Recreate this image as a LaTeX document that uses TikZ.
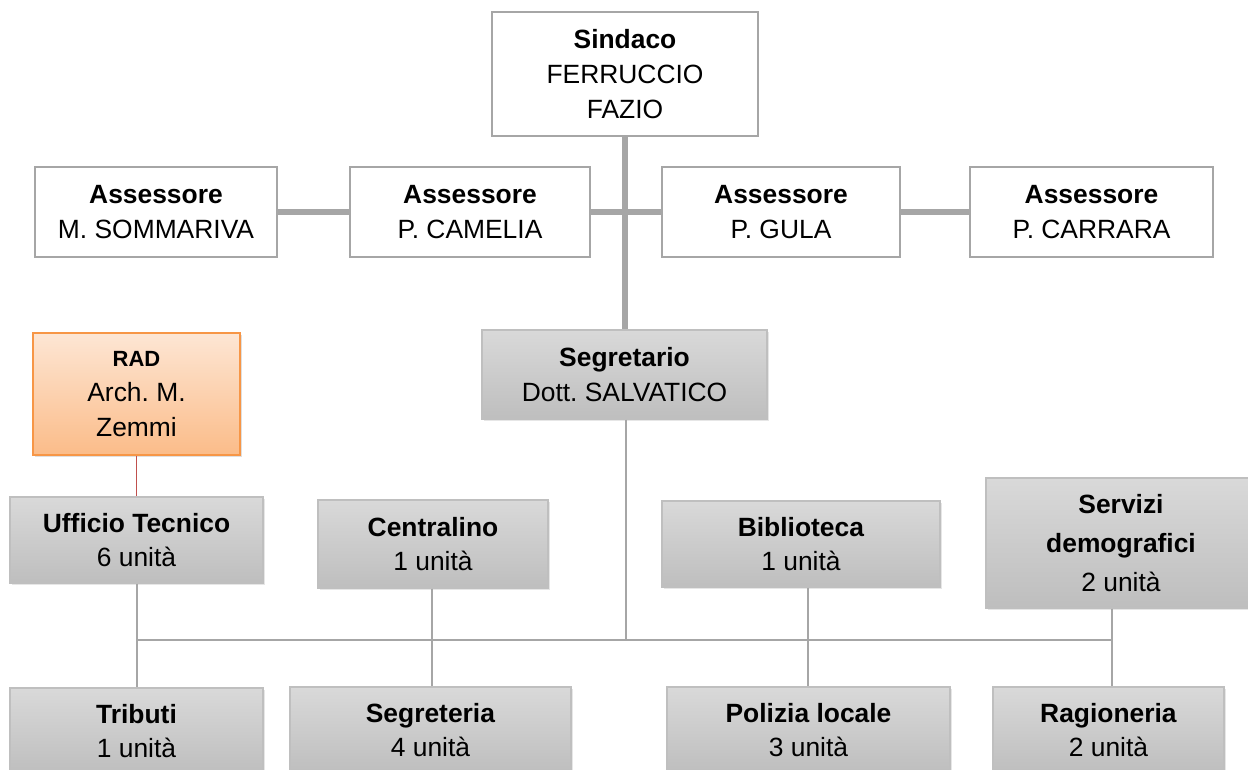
\documentclass[tikz,border=0pt]{standalone}
\usepackage{fontspec}
\setmainfont{Liberation Sans}
\usetikzlibrary{shadows}
\frenchspacing
\definecolor{lineg}{HTML}{A6A6A6}
\definecolor{boxb}{HTML}{BFBFBF}
\definecolor{gtop}{HTML}{D9D9D9}
\definecolor{gbot}{HTML}{BEBEBE}
\definecolor{otop}{HTML}{FDE6D4}
\definecolor{obot}{HTML}{FBBC89}
\definecolor{obord}{HTML}{F79646}
\definecolor{redl}{HTML}{C0504D}
\tikzset{
  x=0.75pt, y=-0.75pt,
  txt/.style={align=center, font=\fontsize{19.8pt}{26pt}\selectfont, inner sep=0pt},
  wbox/.style={txt, draw=lineg, line width=1.5pt, fill=white},
  gbox/.style={txt, draw=boxb, line width=1pt, top color=gtop, bottom color=gbot,
     drop shadow={opacity=0.2, shadow xshift=1.5pt, shadow yshift=-1.5pt}},
  obox/.style={txt, draw=obord, line width=1.2pt, top color=otop, bottom color=obot,
     drop shadow={opacity=0.25, shadow xshift=1.5pt, shadow yshift=-1.5pt}},
  thick link/.style={draw=lineg, line width=4.5pt},
  thin link/.style={draw=lineg, line width=1.1pt},
  red link/.style={draw=redl, line width=1.1pt},
}
\begin{document}
\begin{tikzpicture}
\useasboundingbox (0,0) rectangle (1248,769);
\clip (0,0) rectangle (1248,769);
% top level
\node[wbox, minimum width=199.5pt, minimum height=93pt] (sindaco) at (625,74)
  {\textbf{Sindaco}\\FERRUCCIO\\FAZIO};
\node[wbox, minimum width=181.5pt, minimum height=67.5pt] (a1) at (156,212)
  {\textbf{Assessore}\\M. SOMMARIVA};
\node[wbox, minimum width=180pt, minimum height=67.5pt] (a2) at (470,212)
  {\textbf{Assessore}\\P. CAMELIA};
\node[wbox, minimum width=178.5pt, minimum height=67.5pt] (a3) at (781,212)
  {\textbf{Assessore}\\P. GULA};
\node[wbox, minimum width=182.25pt, minimum height=67.5pt] (a4) at (1091.5,212)
  {\textbf{Assessore}\\P. CARRARA};
% thick connectors
\draw[thick link] (sindaco.south) -- (sindaco.south |- 0,330);
\draw[thick link] (a1.east) -- (a2.west);
\draw[thick link] (a2.east) -- (a3.west);
\draw[thick link] (a3.east) -- (a4.west);
% second level
\node[gbox, minimum width=213.75pt, minimum height=66.75pt] (segr) at (624.5,374.5)
  {\textbf{Segretario}\\Dott. SALVATICO};
\node[obox, minimum width=155.25pt, minimum height=91.5pt] (rad) at (136.5,394)
  {{\fontsize{16.5pt}{26pt}\selectfont\textbf{RAD}}\\Arch. M.\\Zemmi};
% third level
\node[gbox, minimum width=189.75pt, minimum height=64.5pt] (uff) at (136.5,540)
  {\textbf{Ufficio Tecnico}\\6 unità};
\node[gbox, minimum width=172.5pt, minimum height=66pt] (cent) at (433,544)
  {\textbf{Centralino}\\1 unità};
\node[gbox, minimum width=208.5pt, minimum height=64.5pt] (bibl) at (801,544)
  {\textbf{Biblioteca}\\1 unità};
\node[gbox, minimum width=202.5pt, minimum height=97.5pt,
  font=\fontsize{19.8pt}{29pt}\selectfont] (serv) at (1121,543)
  {\textbf{Servizi}\\\textbf{demografici}\\2 unità};
% bottom level
\node[gbox, minimum width=189.75pt, minimum height=64.5pt] (trib) at (136.5,731)
  {\textbf{Tributi}\\1 unità};
\node[gbox, minimum width=210.75pt, minimum height=64.5pt] (segre) at (430.5,730)
  {\textbf{Segreteria}\\4 unità};
\node[gbox, minimum width=212.25pt, minimum height=64.5pt] (pol) at (808.5,730)
  {\textbf{Polizia locale}\\3 unità};
\node[gbox, minimum width=173.25pt, minimum height=64.5pt] (rag) at (1108.5,730)
  {\textbf{Ragioneria}\\2 unità};
% thin connectors
\coordinate (busL) at (137,640);
\coordinate (busR) at (1112,640);
\coordinate (busM) at (626,640);
\draw[thin link] (segr.south -| busM) -- (busM);
\draw[thin link] (busL) -- (busR);
\draw[thin link] (uff.south -| busL) -- (trib.north -| busL);
\draw[thin link] (cent.south -| 432,0) -- (segre.north -| 432,0);
\draw[thin link] (bibl.south -| 808,0) -- (pol.north -| 808,0);
\draw[thin link] (serv.south -| busR) -- (rag.north -| busR);
\draw[red link] (rad.south) -- (uff.north);
\end{tikzpicture}
\end{document}
